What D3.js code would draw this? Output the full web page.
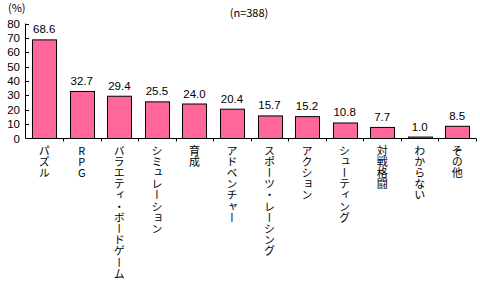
<!DOCTYPE html>
<html><head><meta charset="utf-8">
<script src="https://cdn.jsdelivr.net/npm/d3@7"></script>
<style>
body{margin:0;background:#fff;}
svg text{font-family:"Noto Sans CJK JP","Liberation Sans",sans-serif;}
svg text.num{font-family:"Liberation Sans","DejaVu Sans",sans-serif;}
.vlab{writing-mode:vertical-rl;text-orientation:upright;letter-spacing:0.2px;}
</style></head>
<body><svg id="c" width="480" height="281"></svg>
<script>
const categories=["パズル","RPG","バラエティ・ボードゲーム","シミュレーション","育成","アドベンチャー","スポーツ・レーシング","アクション","シューティング","対戦格闘","わからない","その他"];
const values=[68.6,32.7,29.4,25.5,24.0,20.4,15.7,15.2,10.8,7.7,1.0,8.5];
const yTicks=[0,10,20,30,40,50,60,70,80];

const svg=d3.select("#c");
const xb=d3.scaleBand().domain(categories).range([25.5,476]);
const y=d3.scaleLinear().domain([0,80]).range([138.5,23.5]);
const cx=c=>xb(c)+xb.bandwidth()/2;

// bars
svg.selectAll("rect.bar").data(values).join("rect")
  .attr("x",(d,i)=>Math.round(cx(categories[i])-12)+0.5)
  .attr("width",24)
  .attr("y",d=>y(d))
  .attr("height",d=>y(0)-y(d))
  .attr("fill","#FF6699").attr("stroke","#000").attr("stroke-width",1);

// value labels
svg.selectAll("text.val").data(values).join("text").attr("class","num")
  .attr("x",(d,i)=>cx(categories[i]))
  .attr("y",d=>y(d)-6.5)
  .attr("text-anchor","middle").attr("font-size",11.5).attr("fill","#000")
  .text(d=>d.toFixed(1));

// y axis with inward ticks
svg.append("line").attr("x1",25.5).attr("x2",25.5).attr("y1",y(80)).attr("y2",y(0)).attr("stroke","#000");
svg.selectAll("line.yt").data(yTicks.filter(d=>d>0)).join("line")
  .attr("x1",25.5).attr("x2",29).attr("y1",d=>Math.round(y(d))+0.5).attr("y2",d=>Math.round(y(d))+0.5).attr("stroke","#000");
svg.selectAll("text.yt").data(yTicks).join("text").attr("class","num")
  .attr("x",20).attr("y",d=>y(d)+4).attr("text-anchor","end").attr("font-size",11.5).text(d=>d);

// x axis
svg.append("line").attr("x1",25.5).attr("x2",476).attr("y1",y(0)).attr("y2",y(0)).attr("stroke","#000");
svg.selectAll("line.xt").data(categories).join("line")
  .attr("x1",d=>Math.round(xb(d)+xb.bandwidth())+0.5).attr("x2",d=>Math.round(xb(d)+xb.bandwidth())+0.5)
  .attr("y1",y(0)).attr("y2",y(0)+3).attr("stroke","#000");

// x labels vertical
svg.selectAll("text.xl").data(categories).join("text")
  .attr("class","vlab")
  .attr("x",d=>cx(d)).attr("y",145)
  .attr("font-size",11).text(d=>d);

svg.append("text").attr("x",8).attr("y",12).attr("font-size",11).text("(%)");
svg.append("text").attr("x",249).attr("y",17).attr("text-anchor","middle").attr("font-size",11).text("(n=388)");
</script></body></html>
